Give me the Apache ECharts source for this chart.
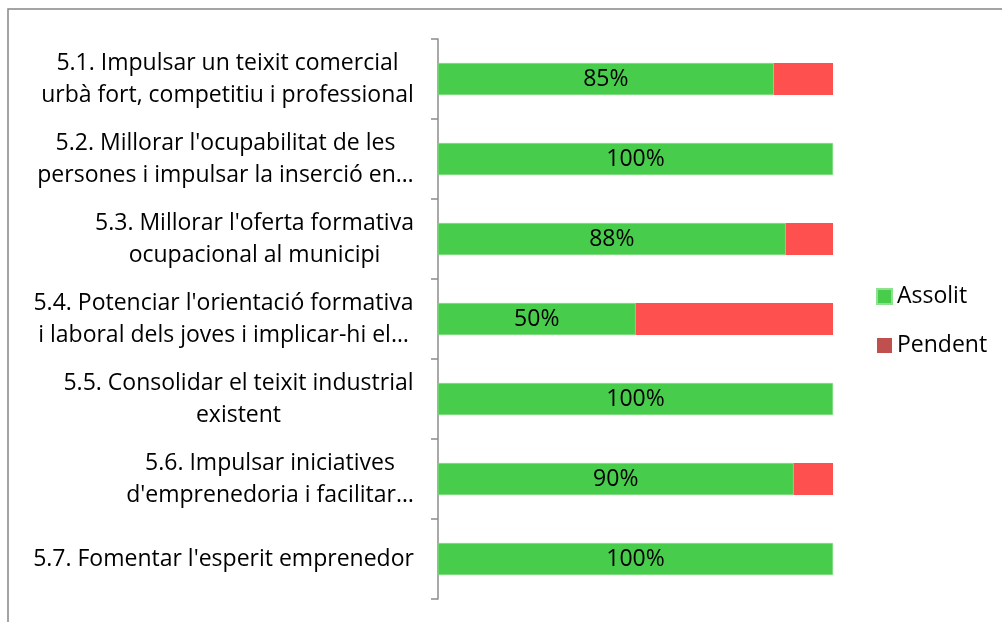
<!DOCTYPE html>
<html>
<head>
<meta charset="utf-8">
<script src="https://cdn.jsdelivr.net/npm/echarts@6/dist/echarts.min.js"></script>
<style>
  html, body { margin: 0; padding: 0; background: #fff; }
  #chart { width: 1002px; height: 622px; }
</style>
</head>
<body>
<div id="chart"></div>
<script>
const categories = [
  "5.1. Impulsar un teixit comercial\nurbà fort, competitiu i professional",
  "5.2. Millorar l'ocupabilitat de les\npersones i impulsar la inserció en…",
  "5.3. Millorar l'oferta formativa\nocupacional al municipi",
  "5.4. Potenciar l'orientació formativa\ni laboral dels joves i implicar-hi el…",
  "5.5. Consolidar el teixit industrial\nexistent",
  "5.6. Impulsar iniciatives\nd'emprenedoria i facilitar…",
  "5.7. Fomentar l'esperit emprenedor"
];
const assolit = [85, 100, 88, 50, 100, 90, 100];
const pendent = [15, 0, 12, 50, 0, 10, 0];

const FONT = "Open Sans";
const FS = 23;

// measure each label so lines can be centred inside a right-aligned block
const ctx = document.createElement("canvas").getContext("2d");
ctx.font = FS + "px " + FONT;
const rich = {};
categories.forEach((c, i) => {
  const w = Math.max(...c.split("\n").map((l) => ctx.measureText(l).width));
  rich["c" + i] = {
    width: Math.ceil(w),
    align: "center",
    fontSize: FS,
    fontFamily: FONT,
    color: "#000",
    lineHeight: 32,
  };
});

const chart = echarts.init(document.getElementById("chart"));

chart.setOption({
  animation: false,
  graphic: [
    {
      type: "rect",
      shape: { x: 8, y: 9, width: 1100, height: 700 },
      style: { fill: "none", stroke: "#878787", lineWidth: 1.5 },
      silent: true,
      z: -1,
    },
  ],
  legend: {
    orient: "vertical",
    left: 876,
    top: 285,
    padding: 0,
    itemWidth: 15,
    itemHeight: 15,
    itemGap: 26,
    icon: "rect",
    textStyle: { fontFamily: FONT, fontSize: FS, color: "#000" },
    data: [
      { name: "Assolit", itemStyle: { color: "#47cc4b" } },
      { name: "Pendent", itemStyle: { color: "#c0504d" } },
    ],
  },
  grid: { left: 438, right: 169, top: 39, bottom: 23, containLabel: false },
  xAxis: { type: "value", min: 0, max: 100, show: false },
  yAxis: {
    type: "category",
    inverse: true,
    data: categories,
    axisLine: { show: true, lineStyle: { color: "#8c8c8c", width: 1.5 } },
    axisTick: { show: true, length: 7, lineStyle: { color: "#8c8c8c", width: 1.5 } },
    axisLabel: {
      interval: 0,
      margin: 24,
      align: "right",
      formatter: (v, i) =>
        v.split("\n").map((l) => "{c" + i + "|" + l + "}").join("\n"),
      rich: rich,
    },
  },
  series: [
    {
      name: "Assolit",
      type: "bar",
      stack: "total",
      barWidth: 32,
      data: assolit,
      itemStyle: { color: "#47cc4b", borderColor: "#8fe08f", borderWidth: 0.5 },
      label: {
        show: true,
        position: "inside",
        formatter: "{c}%",
        fontFamily: FONT,
        fontSize: FS,
        color: "#000",
      },
    },
    {
      name: "Pendent",
      type: "bar",
      stack: "total",
      barWidth: 32,
      data: pendent,
      itemStyle: { color: "#ff5050" },
    },
  ],
});
</script>
</body>
</html>
